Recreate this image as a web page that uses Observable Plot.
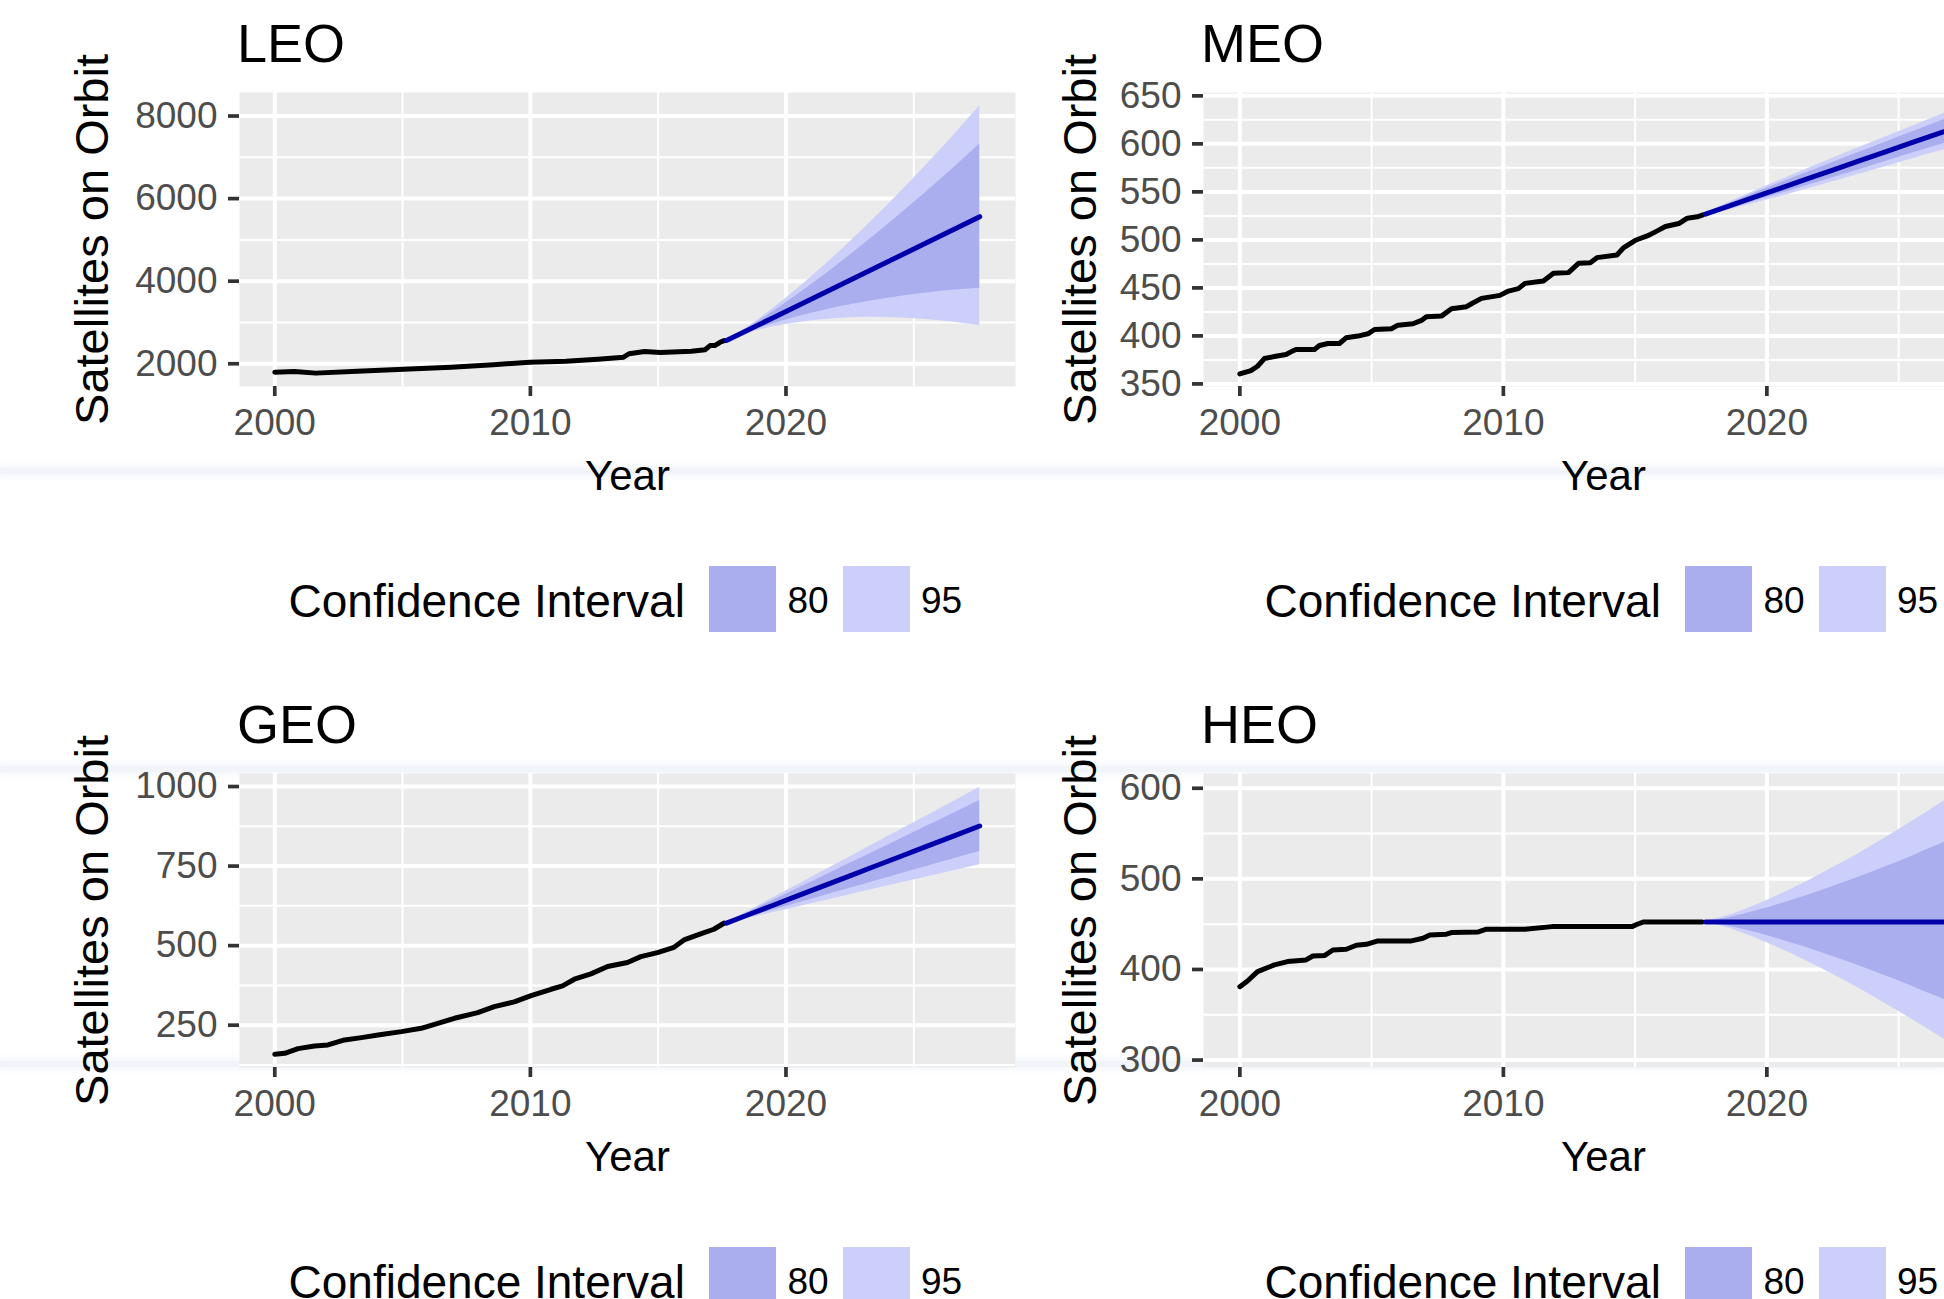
<!DOCTYPE html>
<html><head><meta charset="utf-8">
<script src="https://cdn.jsdelivr.net/npm/d3@7"></script>
<script src="https://cdn.jsdelivr.net/npm/@observablehq/plot@0.6"></script>
<style>
html,body{margin:0;padding:0;}
body{width:1944px;height:1299px;overflow:hidden;position:relative;background:#fff;font-family:"Liberation Sans",Arial,Helvetica,sans-serif;}
.abs{position:absolute;white-space:nowrap;line-height:1;}
.sw{position:absolute;}
.wrap{position:absolute;width:1030px;}
.wrap svg{max-width:none !important;}
.band{position:absolute;left:0;width:1944px;height:6px;background:#F1F4F9;box-shadow:0 0 6px 3px #F5F7FB;}
</style></head><body>
<div class="band" style="top:468px"></div>
<div class="band" style="top:766px"></div>
<div class="band" style="top:1061px"></div>
<script>
// ---------- DATA ----------
const orbitNames = ["LEO", "MEO", "GEO", "HEO"];
const xTicks = [2000, 2010, 2020];
const legendLabels = ["80", "95"];

const leoYear = [2000.0, 2000.77, 2001.6, 2003.23, 2005.27, 2006.9, 2008.55, 2009.98, 2011.4, 2012.64, 2013.65, 2013.86, 2014.47, 2015.09, 2016.3, 2016.84, 2017.03, 2017.23, 2017.42, 2017.58];
const leoVal  = [1797, 1814, 1773, 1821, 1870, 1918, 1976, 2039, 2063, 2111, 2160, 2242, 2297, 2273, 2305, 2340, 2440, 2445, 2520, 2560];

const meoYear = [2000.0, 2000.42, 2000.67, 2000.93, 2001.31, 2001.75, 2001.94, 2002.13, 2002.83, 2003.02, 2003.34, 2003.78, 2004.03, 2004.48, 2004.86, 2005.11, 2005.75, 2006.0, 2006.57, 2006.89, 2007.08, 2007.65, 2008.03, 2008.6, 2008.79, 2009.17, 2009.87, 2010.19, 2010.57, 2010.82, 2011.52, 2011.9, 2012.47, 2012.85, 2013.3, 2013.55, 2014.31, 2014.57, 2015.01, 2015.46, 2015.84, 2016.15, 2016.66, 2016.98, 2017.36, 2017.57];
const meoVal  = [360.4, 363.9, 368.4, 376.4, 378.5, 380.6, 383.4, 385.8, 385.8, 390.0, 392.1, 392.1, 398.0, 399.8, 402.2, 406.7, 407.4, 411.2, 412.6, 416.1, 420.0, 420.6, 428.3, 430.4, 433.5, 439.1, 442.2, 446.7, 449.2, 454.7, 457.2, 465.2, 465.9, 475.6, 476.3, 481.5, 484.3, 492.0, 499.6, 504.1, 509.4, 513.9, 517.0, 522.6, 524.0, 526.1];

const geoYear = [2000.0, 2000.39, 2000.91, 2001.56, 2002.08, 2002.73, 2003.39, 2004.04, 2004.95, 2005.73, 2006.38, 2007.03, 2007.94, 2008.59, 2009.37, 2010.03, 2010.81, 2011.26, 2011.72, 2012.37, 2013.02, 2013.8, 2014.32, 2014.97, 2015.62, 2016.01, 2016.66, 2017.18, 2017.57];
const geoVal  = [158.4, 161.6, 176.3, 184.7, 187.8, 203.5, 210.9, 219.3, 229.7, 240.2, 256.0, 271.7, 289.5, 308.4, 323.1, 343.0, 362.9, 373.4, 394.4, 411.2, 434.2, 446.8, 465.5, 478.1, 494.9, 518.0, 536.8, 551.5, 570.4];

const heoYear = [2000.0, 2000.29, 2000.67, 2001.31, 2001.81, 2002.51, 2002.77, 2003.21, 2003.53, 2004.04, 2004.42, 2004.8, 2005.24, 2006.51, 2006.95, 2007.21, 2007.84, 2008.03, 2009.05, 2009.36, 2010.82, 2011.84, 2014.88, 2015.08, 2015.33, 2017.55];
const heoVal  = [381.0, 387.3, 397.6, 405.0, 408.7, 410.5, 414.9, 415.3, 421.5, 422.3, 426.7, 427.8, 431.5, 431.5, 434.4, 438.1, 438.9, 440.7, 441.4, 444.4, 444.4, 447.3, 447.3, 449.9, 452.5, 452.5];

const fcYear = [2017.67, 2018.5, 2019.5, 2020.5, 2021.5, 2022.5, 2023.5, 2024.5, 2025.5, 2026.5, 2027.58];

const leoMean = [2563, 2814, 3116, 3418, 3720, 4022, 4324, 4627, 4929, 5231, 5562];
const leoLo80 = [2556, 2765, 2970, 3146, 3297, 3427, 3539, 3635, 3714, 3780, 3830];
const leoHi80 = [2570, 2863, 3264, 3696, 4151, 4629, 5125, 5639, 6168, 6712, 7330];
const leoLo95 = [2553, 2741, 2894, 3002, 3074, 3113, 3124, 3111, 3073, 3012, 2929];
const leoHi95 = [2573, 2889, 3342, 3842, 4380, 4949, 5548, 6173, 6823, 7494, 8249];

const meoMean = [526.8, 534.7, 544.2, 553.7, 563.2, 572.7, 582.2, 591.7, 601.2, 610.7, 621.0];
const meoLo80 = [525.8, 532.2, 540.1, 548.1, 556.4, 564.7, 573.1, 581.6, 590.1, 598.6, 607.9];
const meoHi80 = [527.8, 537.2, 548.3, 559.3, 570.0, 580.7, 591.3, 601.8, 612.3, 622.8, 634.1];
const meoLo95 = [525.3, 530.9, 537.9, 545.2, 552.8, 560.5, 568.3, 576.2, 584.2, 592.2, 601.0];
const meoHi95 = [528.3, 538.5, 550.5, 562.2, 573.6, 584.9, 596.1, 607.2, 618.2, 629.2, 641.0];

const geoMean = [570.6, 596.2, 627.0, 657.8, 688.6, 719.4, 750.2, 781.0, 811.8, 842.6, 876.0];
const geoLo80 = [569.6, 588.9, 611.7, 634.5, 657.3, 680.1, 702.9, 725.8, 748.6, 771.4, 795.5];
const geoHi80 = [571.6, 603.5, 642.3, 681.1, 719.9, 758.7, 797.5, 836.2, 875.0, 913.8, 956.5];
const geoLo95 = [569.1, 585.1, 603.8, 622.5, 641.2, 659.9, 678.6, 697.3, 716.0, 734.7, 754.5];
const geoHi95 = [572.1, 607.3, 650.2, 693.1, 736.0, 778.9, 821.8, 864.7, 907.6, 950.5, 997.5];

const heoMean = [452.5, 452.5, 452.5, 452.5, 452.5, 452.5, 452.5, 452.5, 452.5, 452.5, 452.5];
const heoLo80 = [452.2, 448.2, 441.4, 433.2, 424.2, 414.3, 404.0, 393.0, 381.6, 369.6, 356.4];
const heoHi80 = [452.8, 456.9, 463.9, 472.3, 481.5, 491.6, 502.1, 513.3, 525.1, 537.4, 550.5];
const heoLo95 = [452.0, 446.0, 435.5, 423.1, 409.4, 394.6, 378.9, 362.3, 345.1, 327.1, 307.0];
const heoHi95 = [453.0, 459.2, 470.0, 482.8, 496.9, 512.2, 528.3, 545.4, 563.2, 581.7, 602.4];

const leoTicks = [2000, 4000, 6000, 8000];
const meoTicks = [350, 400, 450, 500, 550, 600, 650];
const geoTicks = [250, 500, 750, 1000];
const heoTicks = [300, 400, 500, 600];

// ---------- LAYOUT / STYLE ----------
const FONT = '"Liberation Sans", Arial, Helvetica, sans-serif';
const C80 = "#AAAEEE", C95 = "#CCCFF9", FCOL = "#0000AA";
const X_DOMAIN = [1998.62, 2028.98];
const SVG_W = 1030, SVG_H = 430, SVG_TOP = 80, M_TOP = 12, M_BOTTOM = 124, M_RIGHT = 15;

const panels = [
  {name: orbitNames[0], ox: 0,   oy: 0,   ml: 239, dom: [1449, 8570], ticks: leoTicks, hy: leoYear, hv: leoVal,
   m: leoMean, lo80: leoLo80, hi80: leoHi80, lo95: leoLo95, hi95: leoHi95},
  {name: orbitNames[1], ox: 988, oy: 0,   ml: 215, dom: [347.3, 653.5], ticks: meoTicks, hy: meoYear, hv: meoVal,
   m: meoMean, lo80: meoLo80, hi80: meoHi80, lo95: meoLo95, hi95: meoHi95},
  {name: orbitNames[2], ox: 0,   oy: 681, ml: 239, dom: [117, 1041], ticks: geoTicks, hy: geoYear, hv: geoVal,
   m: geoMean, lo80: geoLo80, hi80: geoHi80, lo95: geoLo95, hi95: geoHi95},
  {name: orbitNames[3], ox: 988, oy: 681, ml: 215, dom: [291.8, 616.3], ticks: heoTicks, hy: heoYear, hv: heoVal,
   m: heoMean, lo80: heoLo80, hi80: heoHi80, lo95: heoLo95, hi95: heoHi95}
];

function minorOf(ticks, dom) {
  const step = ticks[1] - ticks[0];
  const out = [];
  for (let v = ticks[0] - step / 2; v <= dom[1]; v += step) if (v >= dom[0]) out.push(v);
  return out;
}

function addDiv(text, left, top, size, color) {
  const d = document.createElement("div");
  d.className = "abs";
  d.textContent = text;
  d.style.left = left + "px"; d.style.top = top + "px";
  d.style.fontSize = size + "px"; d.style.color = color || "#000";
  document.body.appendChild(d);
}
function addSwatch(left, top, color) {
  const d = document.createElement("div");
  d.className = "sw";
  d.style.left = left + "px"; d.style.top = top + "px";
  d.style.width = "67px"; d.style.height = "66px"; d.style.background = color;
  document.body.appendChild(d);
}

for (const p of panels) {
  const hist = p.hy.map((x, i) => ({x, y: p.hv[i]}));
  const fc = fcYear.map((x, i) => ({x, m: p.m[i], lo80: p.lo80[i], hi80: p.hi80[i], lo95: p.lo95[i], hi95: p.hi95[i]}));
  const majorX = [2000, 2010, 2020];
  const minorX = [2005, 2015, 2025];
  const minorY = minorOf(p.ticks, p.dom);

  const chart = Plot.plot({
    width: SVG_W, height: SVG_H,
    marginTop: M_TOP, marginBottom: M_BOTTOM, marginLeft: p.ml, marginRight: M_RIGHT,
    x: {domain: X_DOMAIN},
    y: {domain: p.dom},
    style: {background: "transparent", fontFamily: FONT, overflow: "visible", maxWidth: "none"},
    marks: [
      Plot.frame({fill: "#EBEBEB", stroke: "none"}),
      Plot.ruleY(minorY, {stroke: "#fff", strokeWidth: 2}),
      Plot.ruleX(minorX, {stroke: "#fff", strokeWidth: 2}),
      Plot.ruleY(p.ticks, {stroke: "#fff", strokeWidth: 4}),
      Plot.ruleX(majorX, {stroke: "#fff", strokeWidth: 4}),
      Plot.areaY(fc, {x: "x", y1: "lo95", y2: "hi95", fill: C95, curve: "monotone-x"}),
      Plot.areaY(fc, {x: "x", y1: "lo80", y2: "hi80", fill: C80, curve: "monotone-x"}),
      Plot.line(hist, {x: "x", y: "y", stroke: "#000", strokeWidth: 5}),
      Plot.line(fc, {x: "x", y: "m", stroke: FCOL, strokeWidth: 5}),
      Plot.axisX({ticks: xTicks, tickFormat: d => String(d), tickSize: 10, tickPadding: 12, fontSize: 37,
                  stroke: "#333", strokeWidth: 3.7, fill: "#4D4D4D", label: null}),
      Plot.axisY({ticks: p.ticks, tickFormat: d => String(d), tickSize: 11, tickPadding: 11, fontSize: 37,
                  stroke: "#333", strokeWidth: 3.7, fill: "#4D4D4D", label: null}),
      Plot.text(["Year"], {text: d => d, frameAnchor: "bottom", textAnchor: "middle", lineAnchor: "middle",
                           dy: 90, fontSize: 42, fill: "#000"}),
      Plot.text(["Satellites on Orbit"], {text: d => d, frameAnchor: "left", textAnchor: "middle", lineAnchor: "middle",
                           dx: 92 - p.ml, rotate: -90, fontSize: 47, fill: "#000"})
    ]
  });
  const wrap = document.createElement("div");
  wrap.className = "wrap";
  wrap.style.left = p.ox + "px";
  wrap.style.top = (p.oy + SVG_TOP) + "px";
  wrap.appendChild(chart);
  document.body.appendChild(wrap);

  // title
  addDiv(p.name, p.ox + p.ml - 2, p.oy + 16, 54, "#000");

  // legend, centered on panel
  const panelLeft = p.ox + p.ml, panelRight = p.ox + SVG_W - M_RIGHT;
  const c = (panelLeft + panelRight) / 2;
  addDiv("Confidence Interval", c - 338.5, p.oy + 578, 46, "#000");
  addSwatch(c + 82, p.oy + 566, C80);
  addDiv(legendLabels[0], c + 160.5, p.oy + 582, 37, "#000");
  addSwatch(c + 216, p.oy + 566, C95);
  addDiv(legendLabels[1], c + 294, p.oy + 582, 37, "#000");
}
</script></body></html>
